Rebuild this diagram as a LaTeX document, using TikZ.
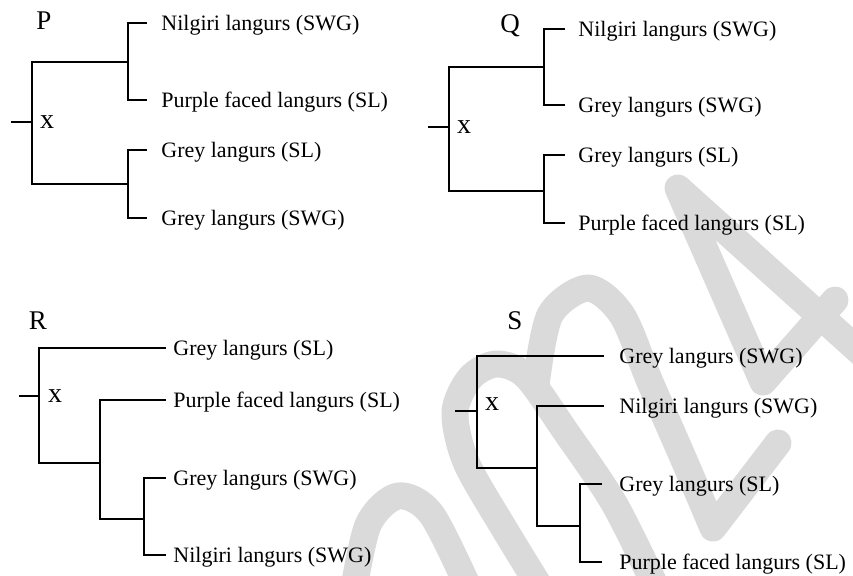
\documentclass[tikz,border=0pt]{standalone}
\usepackage{fontspec}
\setmainfont{Liberation Serif}
\definecolor{wmgray}{RGB}{218,218,218}

\begin{document}
\begin{tikzpicture}[x=0.5pt,y=-0.5pt,
	branch/.style={line width=0.65pt},
	leaf/.style={anchor=west,inner xsep=#1,inner ysep=0pt,text height=7.3pt,text depth=0pt,font=\fontsize{11}{13}\selectfont},
	leaf/.default=7pt,
	title/.style={inner sep=0pt,text height=9pt,text depth=0pt,font=\fontsize{13.5}{15}\selectfont},
	xmark/.style={inner sep=0pt,font=\fontsize{14}{16}\selectfont},
	mark2024/.style={wmgray,line width=13.5pt,line cap=round,line join=round}]
	\useasboundingbox (0,0) rectangle (853,575);
	% watermark 2024
	\begin{scope}
		\clip (0,0) rectangle (853,575);
		\draw[mark2024] plot[smooth] coordinates {(352,600) (368,525) (398,496) (432,515) (474,600)};
		\draw[mark2024] plot[smooth] coordinates {(548,600) (505,530) (466,462) (455,412) (470,378) (496,364) (526,376) (566,432) (615,505) (662,600)};
		\draw[mark2024] plot[smooth] coordinates {(536,385) (550,315) (588,288) (622,315) (650,382) (684,460) (713,528)} -- (778,443);
		\draw[mark2024] (835,300) -- (763,382) -- (678,188) -- (880,370);
	\end{scope}
	% tree P
	\node[title] (lp) at (44,20) {P};
	\coordinate (ps) at (11,122);
	\coordinate (pr) at (32,122);
	\coordinate (pa) at (128,62);
	\coordinate (pb) at (128,184);
	\node[xmark] (px) at (47,122) {x};
	\node[leaf] (p1) at (147,23) {Nilgiri langurs (SWG)};
	\node[leaf] (p2) at (147,100) {Purple faced langurs (SL)};
	\node[leaf] (p3) at (147,150) {Grey langurs (SL)};
	\node[leaf] (p4) at (147,218) {Grey langurs (SWG)};
	\draw[branch] (ps) -- (pr);
	\draw[branch] (pr) |- (pa);
	\draw[branch] (pr) |- (pb);
	\draw[branch] (pa) |- (p1.west);
	\draw[branch] (pa) |- (p2.west);
	\draw[branch] (pb) |- (p3.west);
	\draw[branch] (pb) |- (p4.west);
	% tree Q
	\node[title] (lq) at (510,23) {Q};
	\coordinate (qs) at (428,127);
	\coordinate (qr) at (449,127);
	\coordinate (qa) at (544,67);
	\coordinate (qb) at (544,191);
	\node[xmark] (qx) at (464,127) {x};
	\node[leaf=6.5pt] (q1) at (565,29) {Nilgiri langurs (SWG)};
	\node[leaf=6.5pt] (q2) at (565,105) {Grey langurs (SWG)};
	\node[leaf=6.5pt] (q3) at (565,155) {Grey langurs (SL)};
	\node[leaf=6.5pt] (q4) at (565,223) {Purple faced langurs (SL)};
	\draw[branch] (qs) -- (qr);
	\draw[branch] (qr) |- (qa);
	\draw[branch] (qr) |- (qb);
	\draw[branch] (qa) |- (q1.west);
	\draw[branch] (qa) |- (q2.west);
	\draw[branch] (qb) |- (q3.west);
	\draw[branch] (qb) |- (q4.west);
	% tree R
	\node[title] (lr) at (38,320) {R};
	\coordinate (rs) at (19,396);
	\coordinate (rr) at (39,396);
	\coordinate (ra) at (100,463);
	\coordinate (rb) at (144,519);
	\node[xmark] (rx) at (55,396) {x};
	\node[leaf=3.5pt] (r1) at (166,348) {Grey langurs (SL)};
	\node[leaf=3.5pt] (r2) at (166,400) {Purple faced langurs (SL)};
	\node[leaf=3.5pt] (r3) at (166,478) {Grey langurs (SWG)};
	\node[leaf=3.5pt] (r4) at (166,555) {Nilgiri langurs (SWG)};
	\draw[branch] (rs) -- (rr);
	\draw[branch] (rr) |- (r1.west);
	\draw[branch] (rr) |- (ra);
	\draw[branch] (ra) |- (r2.west);
	\draw[branch] (ra) |- (rb);
	\draw[branch] (rb) |- (r3.west);
	\draw[branch] (rb) |- (r4.west);
	% tree S
	\node[title] (ls) at (515,320) {S};
	\coordinate (ss) at (455,411);
	\coordinate (sr) at (477,411);
	\coordinate (sa) at (537,468);
	\coordinate (sb) at (580,526);
	\node[xmark] (sx) at (492,404) {x};
	\node[leaf=7.5pt] (s1) at (604,356) {Grey langurs (SWG)};
	\node[leaf=7.5pt] (s2) at (604,406) {Nilgiri langurs (SWG)};
	\node[leaf=8.5pt] (s3) at (602,484) {Grey langurs (SL)};
	\node[leaf=8.5pt] (s4) at (602,562) {Purple faced langurs (SL)};
	\draw[branch] (ss) -- (sr);
	\draw[branch] (sr) |- (s1.west);
	\draw[branch] (sr) |- (sa);
	\draw[branch] (sa) |- (s2.west);
	\draw[branch] (sa) |- (sb);
	\draw[branch] (sb) |- (s3.west);
	\draw[branch] (sb) |- (s4.west);
\end{tikzpicture}
\end{document}
